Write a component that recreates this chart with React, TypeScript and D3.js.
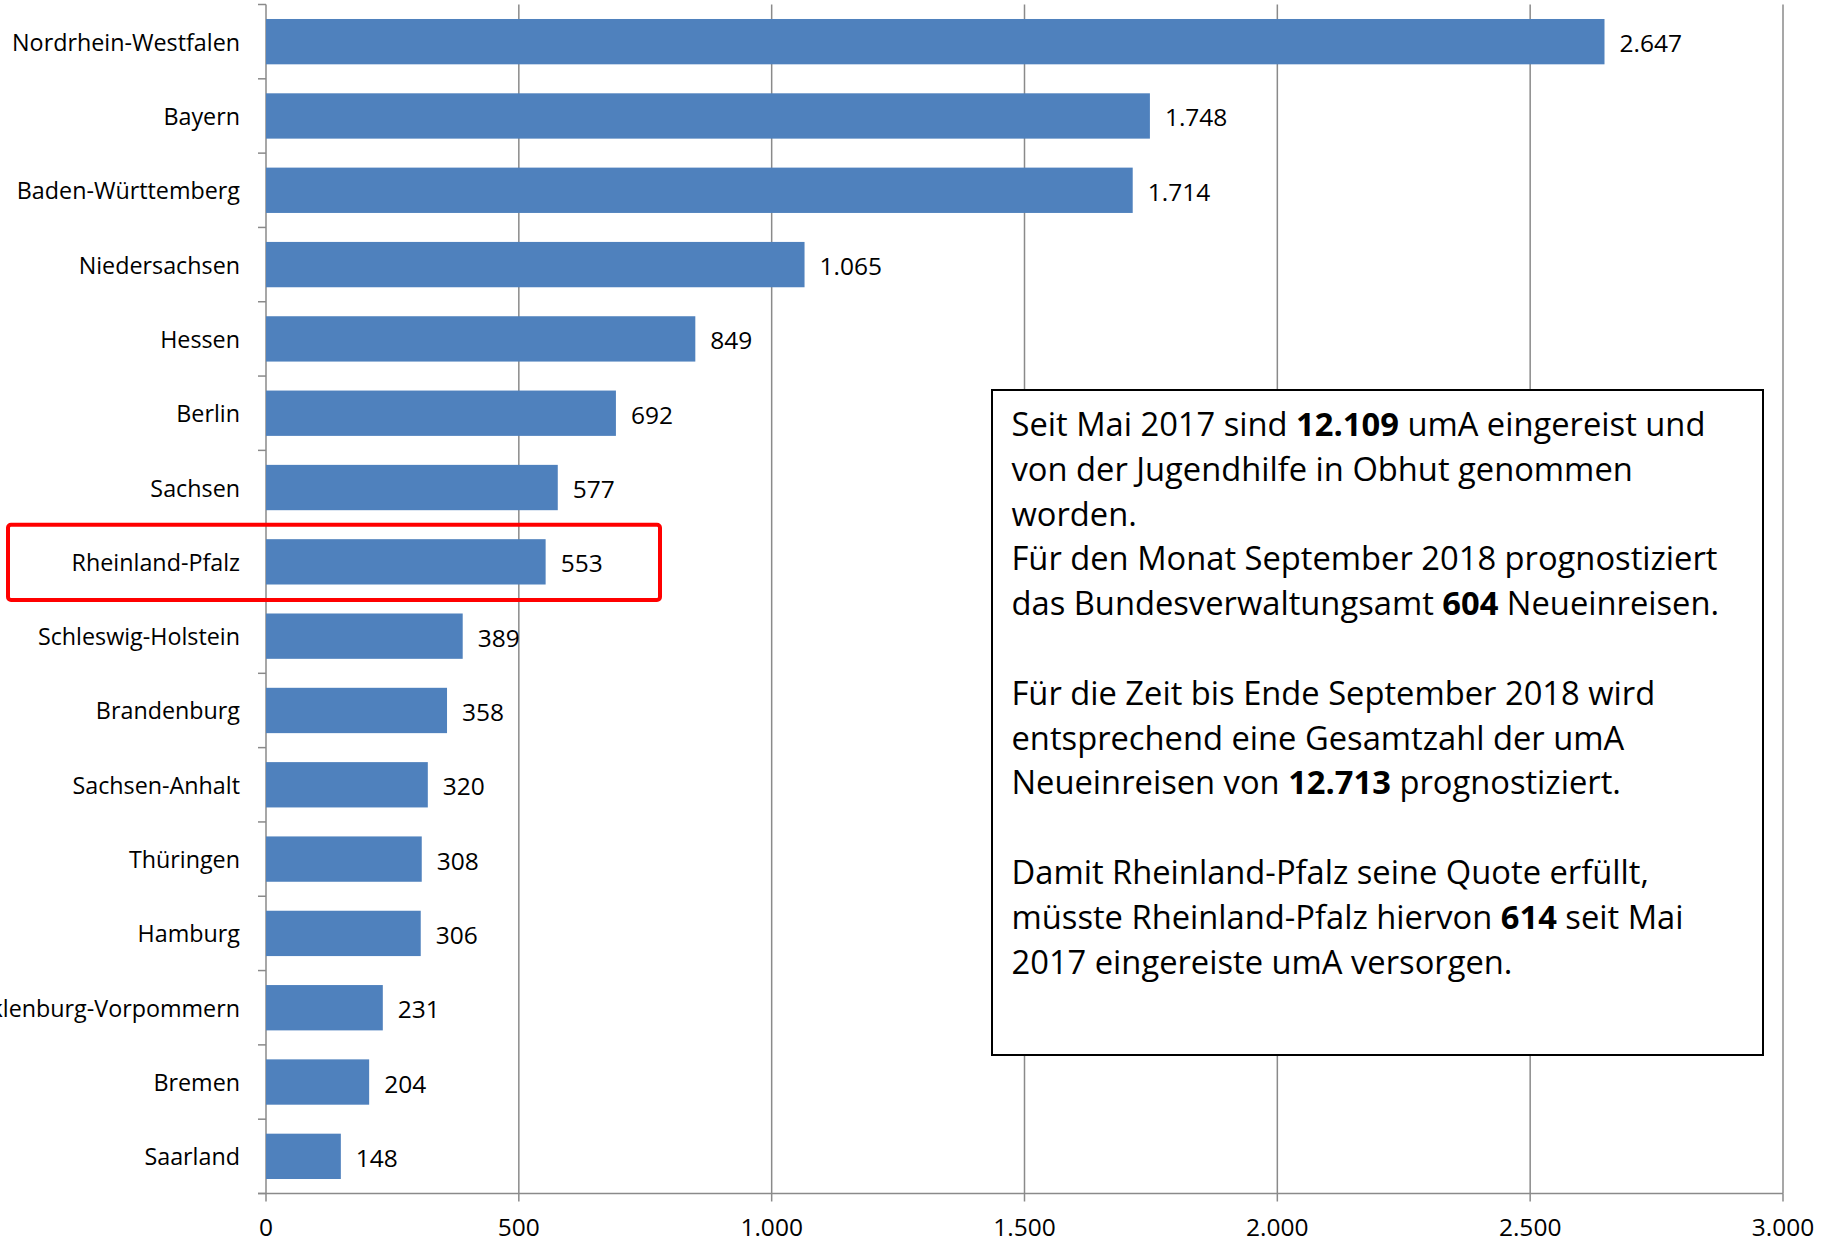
import React from "react";
import * as d3 from "d3";

const categories = [
  "Nordrhein-Westfalen", "Bayern", "Baden-Württemberg", "Niedersachsen", "Hessen", "Berlin",
  "Sachsen", "Rheinland-Pfalz", "Schleswig-Holstein", "Brandenburg", "Sachsen-Anhalt",
  "Thüringen", "Hamburg", "Mecklenburg-Vorpommern", "Bremen", "Saarland",
];
const values = [2647, 1748, 1714, 1065, 849, 692, 577, 553, 389, 358, 320, 308, 306, 231, 204, 148];
const xTicks = [0, 500, 1000, 1500, 2000, 2500, 3000];
const highlighted = "Rheinland-Pfalz";

type Seg = { t: string; b?: boolean };
const noteLines: Seg[][] = [
  [{ t: "Seit Mai 2017 sind " }, { t: "12.109", b: true }, { t: " umA eingereist und" }],
  [{ t: "von der Jugendhilfe in Obhut genommen" }],
  [{ t: "worden." }],
  [{ t: "Für den Monat September 2018 prognostiziert" }],
  [{ t: "das Bundesverwaltungsamt " }, { t: "604", b: true }, { t: " Neueinreisen." }],
  [],
  [{ t: "Für die Zeit bis Ende September 2018 wird" }],
  [{ t: "entsprechend eine Gesamtzahl der umA" }],
  [{ t: "Neueinreisen von " }, { t: "12.713", b: true }, { t: " prognostiziert." }],
  [],
  [{ t: "Damit Rheinland-Pfalz seine Quote erfüllt," }],
  [{ t: "müsste Rheinland-Pfalz hiervon " }, { t: "614", b: true }, { t: " seit Mai" }],
  [{ t: "2017 eingereiste umA versorgen." }],
];

const W = 1821;
const H = 1239;
const left = 266;
const right = 1783;
const top = 4.5;
const bottom = 1193.5;
const FONT = "'Open Sans', sans-serif";
const GRID = "#8a8a8a";

const de = d3.formatLocale({ decimal: ",", thousands: ".", grouping: [3], currency: ["", "€"] });
const fmt = de.format(",d");

export default function App() {
  const x = d3.scaleLinear().domain([0, 3000]).range([left, right]);
  const y = d3.scaleBand<string>().domain(categories).range([top, bottom]).paddingInner(0.39).paddingOuter(0.195);
  const step = y.step();
  const boundaries = d3.range(categories.length + 1).map((i) => top + i * step);

  const hiY = (y(highlighted) as number) - (step - y.bandwidth()) / 2;

  const boxX = 992, boxY = 390, boxW = 771, boxH = 665;
  const lineStart = 423, lineH = 44.8;

  return (
    <svg width={W} height={H} style={{ position: "absolute", left: 0, top: 0, background: "#fff" }} fontFamily={FONT}>
      {/* gridlines */}
      {xTicks.filter((t) => t > 0).map((t) => (
        <line key={"g" + t} x1={x(t)} x2={x(t)} y1={top} y2={bottom} stroke={GRID} strokeWidth={1.5} />
      ))}
      {/* bottom ticks */}
      {xTicks.map((t) => (
        <line key={"bt" + t} x1={x(t)} x2={x(t)} y1={bottom} y2={bottom + 8} stroke={GRID} strokeWidth={1.5} />
      ))}
      {/* category ticks */}
      {boundaries.map((b, i) => (
        <line key={"ct" + i} x1={left - 8} x2={left} y1={b} y2={b} stroke={GRID} strokeWidth={1.5} />
      ))}
      {/* axes */}
      <line x1={left} x2={left} y1={top} y2={bottom} stroke={GRID} strokeWidth={1.5} />
      <line x1={left - 8} x2={right} y1={bottom} y2={bottom} stroke={GRID} strokeWidth={1.5} />
      {/* bars */}
      {categories.map((c, i) => (
        <rect key={"b" + c} x={x(0)} y={y(c)} width={x(values[i]) - x(0)} height={y.bandwidth()} fill="#4f81bd" />
      ))}
      {/* value labels */}
      {categories.map((c, i) => (
        <text key={"v" + c} x={x(values[i]) + 15} y={(y(c) as number) + y.bandwidth() / 2 + 1} dominantBaseline="central"
          fontSize={24.5} fill="#000">{fmt(values[i])}</text>
      ))}
      {/* category labels */}
      {categories.map((c) => (
        <text key={"c" + c} x={left - 26} y={(y(c) as number) + y.bandwidth() / 2} dominantBaseline="central"
          textAnchor="end" fontSize={23.3} fill="#000">{c}</text>
      ))}
      {/* x tick labels */}
      {xTicks.map((t) => (
        <text key={"xl" + t} x={x(t)} y={1226.5} dominantBaseline="central" textAnchor="middle" fontSize={24.5} fill="#000">
          {fmt(t)}
        </text>
      ))}
      {/* highlight box */}
      <rect x={8} y={hiY} width={652} height={step + 1} rx={3} fill="none" stroke="#ff0000" strokeWidth={4} />
      {/* note box */}
      <rect x={boxX} y={boxY} width={boxW} height={boxH} fill="#fff" stroke="#000" strokeWidth={2} />
      {noteLines.map((segs, i) => (
        <text key={"n" + i} x={1011.5} y={lineStart + i * lineH} dominantBaseline="central" fontSize={32.7} fill="#000">
          {segs.map((s, j) => (
            <tspan key={j} fontWeight={s.b ? 700 : 400}>{s.t}</tspan>
          ))}
        </text>
      ))}
    </svg>
  );
}
